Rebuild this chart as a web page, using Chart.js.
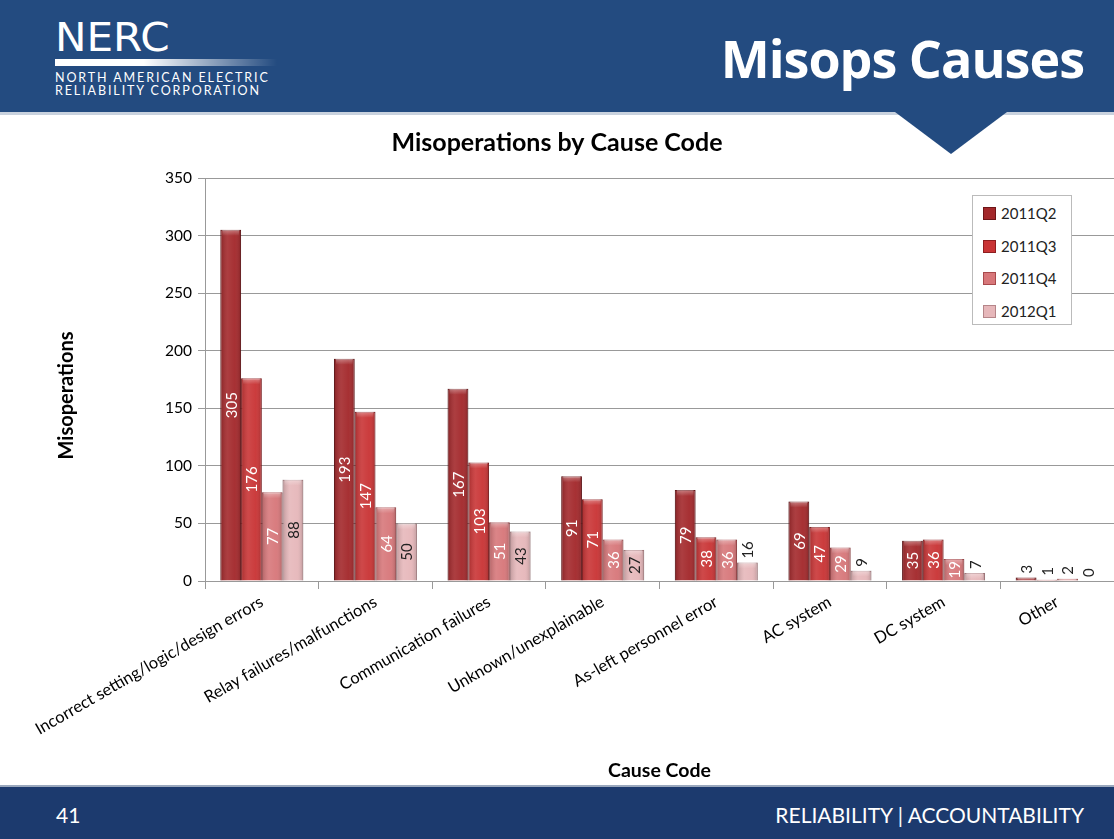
<!DOCTYPE html>
<html>
<head>
<meta charset="utf-8">
<script src="https://cdn.jsdelivr.net/npm/chart.js@4.4.1/dist/chart.umd.min.js"></script>
<style>
  body { margin: 0; width: 1114px; height: 839px; background: #fff; position: relative; overflow: hidden; font-family: Lato, "Open Sans", sans-serif; }
  #header { position: absolute; left: 0; top: 0; width: 1114px; height: 112px; background: #234b80; border-bottom: 3px solid #c9d2de; }
  #arrow { position: absolute; left: 895px; top: 112px; width: 0; height: 0; border-left: 56px solid transparent; border-right: 56px solid transparent; border-top: 42px solid #234b80; }
  #logo { position: absolute; left: 55px; top: 19px; color: #fff; }
  #logo .big { font-family: "DejaVu Sans", sans-serif; font-weight: 400; font-size: 39px; letter-spacing: 0px; line-height: 37px; transform: scaleX(1.08); transform-origin: left; }
  #logo .bar { width: 222px; height: 7px; margin-top: 3px; background: linear-gradient(to right, #fff 0%, #fff 40%, rgba(255,255,255,0) 100%); }
  #logo .small { font-size: 12.5px; letter-spacing: 1.9px; line-height: 13px; margin-top: 5px; }
  #pagetitle { position: absolute; right: 30px; top: 22px; color: #fff; font-weight: bold; font-size: 52px; font-family: "Open Sans", sans-serif; letter-spacing: -1px; }
  #footer { position: absolute; left: 0; top: 785px; width: 1114px; height: 54px; background: #1c3a6e; color: #fff; font-size: 21px; border-top: 2px solid #9aa8bd; }
  #footer .num { position: absolute; left: 56px; top: 15px; }
  #footer .tag { position: absolute; right: 30px; top: 15px; }
  #wrap { position: absolute; left: 0; top: 118px; width: 1114px; height: 667px; }
  #legend { position: absolute; left: 972px; top: 195px; width: 98px; height: 128px; background: #fff; border: 1px solid #bbb; font-size: 15px; color: #222; }
  #legend div { position: absolute; left: 10px; height: 20px; line-height: 20px; }
  #legend span { display: inline-block; width: 11px; height: 11px; margin-right: 5px; vertical-align: -1px; }
</style>
</head>
<body>
<div id="header"></div>
<div id="arrow"></div>
<div id="logo">
  <div class="big">NERC</div>
  <div class="bar"></div>
  <div class="small">NORTH AMERICAN ELECTRIC<br>RELIABILITY CORPORATION</div>
</div>
<div id="pagetitle">Misops Causes</div>
<div id="wrap"><canvas id="chart" width="1114" height="667"></canvas></div>
<div id="legend"></div>
<div id="footer"><span class="num">41</span><span class="tag">RELIABILITY | ACCOUNTABILITY</span></div>
<script>
const causes = [
  "Incorrect setting/logic/design errors",
  "Relay failures/malfunctions",
  "Communication failures",
  "Unknown/unexplainable",
  "As-left personnel error",
  "AC system",
  "DC system",
  "Other"
];
const quarters = ["2011Q2", "2011Q3", "2011Q4", "2012Q1"];
const q2_2011 = [305, 193, 167, 91, 79, 69, 35, 3];
const q3_2011 = [176, 147, 103, 71, 38, 47, 36, 1];
const q4_2011 = [77, 64, 51, 36, 36, 29, 19, 2];
const q1_2012 = [88, 50, 43, 27, 16, 9, 7, 0];
const yTicks = [0, 50, 100, 150, 200, 250, 300, 350];

const fills = ["#a3282b", "#c93435", "#d7777a", "#e6b7ba"];
const edges = ["#6e1518", "#8e1e20", "#a8494c", "#b58589"];
const series = [q2_2011, q3_2011, q4_2011, q1_2012];

// legend box drawn as html
const legend = document.getElementById("legend");
quarters.forEach((q, i) => {
  const d = document.createElement("div");
  d.style.top = (7 + i * 32.5) + "px";
  d.innerHTML = '<span style="background:' + fills[i] + ';border:1px solid ' + edges[i] + '"></span>' + q;
  legend.appendChild(d);
});

// soft 3d shading on each bar
const barShine = {
  id: "barShine",
  afterDatasetsDraw(chart) {
    const ctx = chart.ctx;
    ctx.save();
    chart.data.datasets.forEach((ds, i) => {
      chart.getDatasetMeta(i).data.forEach(bar => {
        const w = bar.width, h = bar.base - bar.y;
        if (h <= 0.5) return;
        const g = ctx.createLinearGradient(bar.x - w / 2, 0, bar.x + w / 2, 0);
        g.addColorStop(0, "rgba(0,0,0,0.18)");
        g.addColorStop(0.35, "rgba(255,255,255,0.10)");
        g.addColorStop(0.7, "rgba(255,255,255,0.04)");
        g.addColorStop(1, "rgba(0,0,0,0.18)");
        ctx.fillStyle = g;
        ctx.fillRect(bar.x - w / 2, bar.y, w, h);
        const t = ctx.createLinearGradient(0, bar.y, 0, bar.y + 6);
        t.addColorStop(0, "rgba(255,255,255,0.35)");
        t.addColorStop(1, "rgba(255,255,255,0)");
        ctx.fillStyle = t;
        ctx.fillRect(bar.x - w / 2 + 2, bar.y, w - 4, Math.min(6, h));
      });
    });
    ctx.restore();
  }
};

// rotated value labels
const valueLabels = {
  id: "valueLabels",
  afterDatasetsDraw(chart) {
    const ctx = chart.ctx;
    ctx.save();
    ctx.font = "15px Lato";
    ctx.textAlign = "center";
    ctx.textBaseline = "middle";
    chart.data.datasets.forEach((ds, i) => {
      chart.getDatasetMeta(i).data.forEach((bar, j) => {
        const txt = String(ds.data[j]);
        const tw = ctx.measureText(txt).width;
        const h = bar.base - bar.y;
        let cy, color;
        if (h > tw + 2) {
          cy = (bar.y + bar.base) / 2;
          color = i === 3 ? "#222" : "#fff";
        } else {
          cy = bar.y - tw / 2 - 4;
          color = "#222";
        }
        ctx.save();
        ctx.translate(bar.x, cy);
        ctx.rotate(-Math.PI / 2);
        ctx.fillStyle = color;
        ctx.fillText(txt, 0, 1);
        ctx.restore();
      });
    });
    ctx.restore();
  }
};

// y axis title, sitting a little below the middle as on the slide
const yTitle = {
  id: "yTitle",
  afterDraw(chart) {
    const ctx = chart.ctx;
    const area = chart.chartArea;
    ctx.save();
    ctx.font = "bold 20px Lato";
    ctx.fillStyle = "#000";
    ctx.textAlign = "center";
    ctx.textBaseline = "middle";
    ctx.translate(67, (area.top + area.bottom) / 2 + 16);
    ctx.rotate(-Math.PI / 2);
    ctx.fillText("Misoperations", 0, 0);
    ctx.restore();
  }
};

const ctx = document.getElementById("chart").getContext("2d");

const misopsChart = new Chart(ctx, {
  type: "bar",
  data: {
    labels: causes,
    datasets: quarters.map((q, i) => ({
      label: q,
      data: series[i],
      backgroundColor: fills[i],
      borderColor: edges[i],
      borderWidth: 1,
      categoryPercentage: 0.73,
      barPercentage: 1.0,
    })),
  },
  options: {
    responsive: false,
    animation: false,
    layout: { padding: { left: 0, right: 0, top: 0, bottom: 0 } },
    plugins: {
      legend: { display: false },
      tooltip: { enabled: false },
      title: {
        display: true,
        text: "Misoperations by Cause Code",
        color: "#000",
        font: { family: "Lato", size: 25, weight: "bold" },
        padding: { top: 10, bottom: 20 },
      },
    },
    scales: {
      x: {
        grid: { display: true, drawOnChartArea: false, offset: true, tickLength: 8, color: "#999" },
        border: { color: "#999" },
        ticks: {
          color: "#000",
          font: { family: "Lato", size: 16.5 },
          minRotation: 30,
          maxRotation: 30,
          autoSkip: false,
        },
        title: {
          display: true,
          text: "Cause Code",
          color: "#000",
          font: { family: "Lato", size: 19.5, weight: "bold" },
          padding: { top: 4, bottom: 3 },
        },
        afterFit(scale) { scale.height = 204; },
      },
      y: {
        min: 0,
        max: 350,
        afterBuildTicks(scale) { scale.ticks = yTicks.map(v => ({ value: v })); },
        grid: { color: "#999", tickLength: 7 },
        border: { color: "#999" },
        ticks: { color: "#000", font: { family: "Lato", size: 15.5 }, padding: 6 },
        afterFit(scale) { scale.width = 205; },
      },
    },
  },
  plugins: [barShine, valueLabels, yTitle],
});
</script>
</body>
</html>
